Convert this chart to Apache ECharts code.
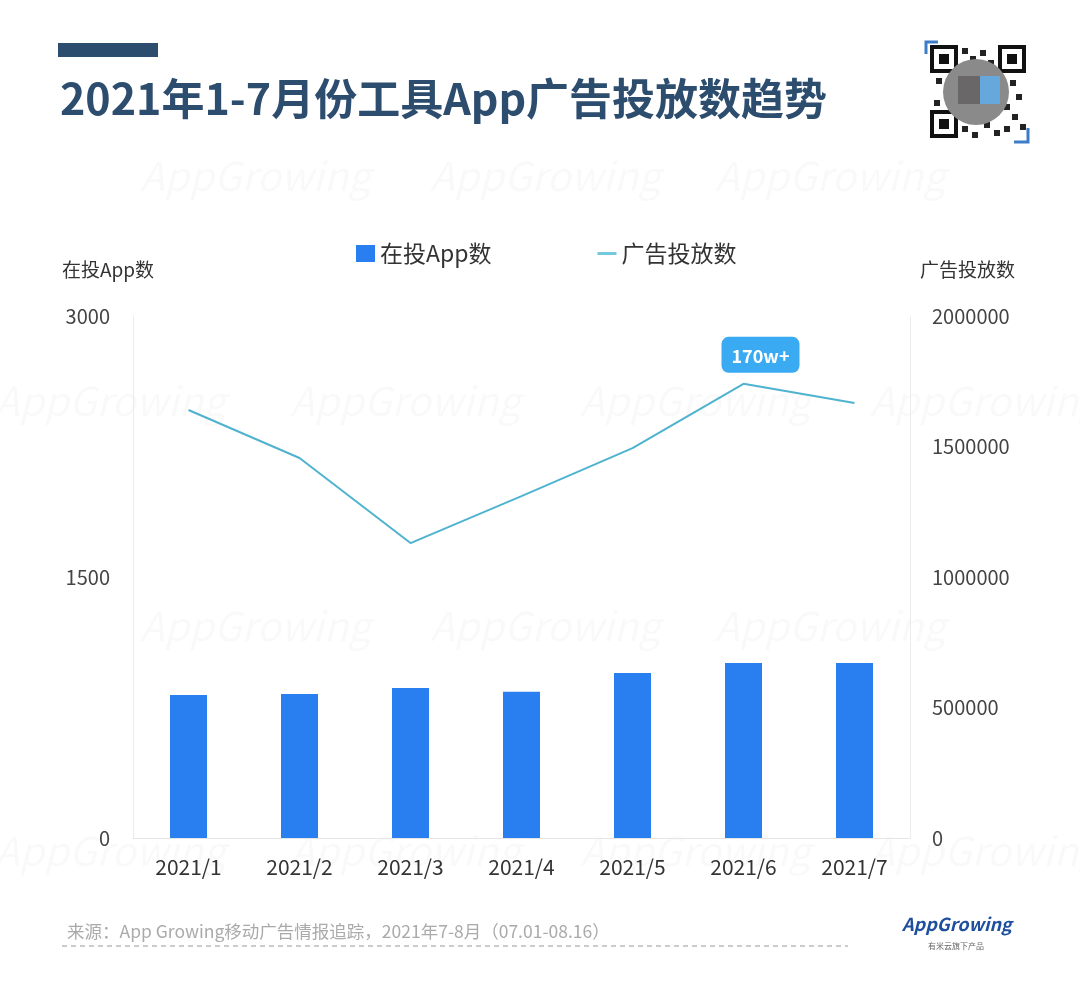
<!DOCTYPE html>
<html>
<head>
<meta charset="utf-8">
<script src="https://cdn.jsdelivr.net/npm/echarts@6/dist/echarts.min.js"></script>
<style>
    html, body {margin: 0; padding: 0; background: #fff;}
    #main {width: 1080px; height: 987px;}
</style>
</head>
<body>
<div id="main"></div>
<script>
// 数据
var months = ['2021/1', '2021/2', '2021/3', '2021/4', '2021/5', '2021/6', '2021/7']
var app_count = [822, 828, 862, 840, 948, 1006, 1006]
var ad_count = [1640000, 1456000, 1130000, 1310000, 1494000, 1740000, 1667000]
var peak_label = '170w+'
var peak_index = 5

var font = '"Noto Sans CJK SC", "Noto Sans", sans-serif'
var chartDom = document.getElementById('main');
var myChart = echarts.init(chartDom);
var option;

var line_data = ad_count.map(function (v, i) {
    if (i === peak_index) {
        return {
            value: v,
            label: {
                show: true,
                position: 'top',
                distance: 11,
                offset: [17, 0],
                formatter: peak_label,
                color: '#fff',
                fontSize: 18,
                fontWeight: 'bold',
                fontFamily: font,
                backgroundColor: '#3aaaf2',
                borderRadius: 7,
                padding: [10, 10, 8, 10]
            }
        }
    }
    return v
})

// 水印
var marks = []
var wm_rows = [[180, [140, 430, 715]], [405, [-5, 290, 580, 870]], [630, [140, 430, 715]], [855, [-5, 290, 580, 870]]]
wm_rows.forEach(function (r) {
    r[1].forEach(function (x) {
        marks.push({type: 'text', x: x, y: r[0] - 24, silent: true,
            style: {text: 'AppGrowing', fill: 'rgba(0,0,0,0.022)', font: 'italic 40px ' + font}})
    })
})

// 二维码 (简化)
var qr = []
var finders = [[932, 47], [1000, 47], [932, 112]]
finders.forEach(function (p) {
    qr.push({type: 'rect', shape: {x: p[0], y: p[1], width: 24, height: 24}, style: {fill: 'none', stroke: '#111', lineWidth: 4}})
    qr.push({type: 'rect', shape: {x: p[0] + 7, y: p[1] + 7, width: 10, height: 10}, style: {fill: '#111'}})
})
var dots = [[962, 48], [970, 56], [980, 50], [988, 60], [936, 78], [944, 90], [934, 100], [1010, 80], [1016, 94], [1004, 104],
    [1012, 114], [1020, 124], [962, 126], [972, 132], [984, 122], [994, 130], [1004, 126]]
dots.forEach(function (d) {
    qr.push({type: 'rect', shape: {x: d[0], y: d[1], width: 6, height: 6}, style: {fill: '#222'}})
})
qr.push({type: 'circle', shape: {cx: 976, cy: 92, r: 33}, style: {fill: '#8a8a8a'}})
qr.push({type: 'rect', shape: {x: 958, y: 76, width: 22, height: 28}, style: {fill: '#6a6768'}})
qr.push({type: 'rect', shape: {x: 980, y: 76, width: 20, height: 28}, style: {fill: '#66a8dc'}})
qr.push({type: 'polyline', shape: {points: [[926, 54], [926, 42], [938, 42]]}, style: {stroke: '#3d7cc9', lineWidth: 3, fill: 'none'}})
qr.push({type: 'polyline', shape: {points: [[1014, 142], [1028, 142], [1028, 128]]}, style: {stroke: '#3d7cc9', lineWidth: 3, fill: 'none'}})

function plain(v) {
    return String(v)
}

option = {
    backgroundColor: '#fff',
    textStyle: {fontFamily: font},
    legend: {
        top: 237,
        left: 351,
        itemGap: 106,
        itemWidth: 19,
        itemHeight: 17,
        textStyle: {fontSize: 23, color: '#333', fontFamily: font},
        data: [
            {name: '在投App数', icon: 'rect'},
            {name: '广告投放数', icon: 'path://M0,0 L20,0 L20,3 L0,3 Z', itemStyle: {color: '#6cc6dd'}}
        ]
    },
    grid: {left: 133, right: 170, top: 316, bottom: 149},
    xAxis: {
        type: 'category',
        data: months,
        axisLine: {lineStyle: {color: '#e6e6e6'}},
        axisTick: {show: false},
        axisLabel: {color: '#333', fontSize: 21, margin: 19, fontFamily: font}
    },
    yAxis: [
        {
            type: 'value',
            name: '在投App数',
            nameLocation: 'end',
            nameGap: 37,
            nameTextStyle: {color: '#333', fontSize: 19, align: 'left', padding: [0, 0, 0, -71]},
            min: 0,
            max: 3000,
            interval: 1500,
            axisLine: {show: true, lineStyle: {color: '#ececec'}},
            axisTick: {show: false},
            splitLine: {show: false},
            axisLabel: {color: '#444', fontSize: 20, margin: 23, fontFamily: font, formatter: plain}
        },
        {
            type: 'value',
            name: '广告投放数',
            nameLocation: 'end',
            nameGap: 37,
            nameTextStyle: {color: '#333', fontSize: 19, align: 'left', padding: [0, 0, 0, 10]},
            min: 0,
            max: 2000000,
            interval: 500000,
            axisLine: {show: true, lineStyle: {color: '#ececec'}},
            axisTick: {show: false},
            splitLine: {show: false},
            axisLabel: {color: '#444', fontSize: 20, margin: 22, fontFamily: font, formatter: plain}
        }
    ],
    series: [
        {
            name: '在投App数',
            type: 'bar',
            yAxisIndex: 0,
            barWidth: 37,
            itemStyle: {color: '#2a7ff0'},
            data: app_count
        },
        {
            name: '广告投放数',
            type: 'line',
            yAxisIndex: 1,
            symbol: 'circle',
            symbolSize: 0,
            showSymbol: true,
            lineStyle: {color: '#4fb3cf', width: 2},
            itemStyle: {color: '#4fb3cf'},
            data: line_data
        }
    ],
    graphic: [
        {type: 'group', z: -10, silent: true, children: marks},
        {type: 'rect', shape: {x: 58, y: 43, width: 100, height: 14}, style: {fill: '#2d4d6f'}},
        {
            type: 'text', left: 60, top: 77,
            style: {text: '2021年1-7月份工具App广告投放数趋势', fill: '#2d4d6f', font: 'bold 43px ' + font}
        },
        {type: 'group', children: qr},
        {
            type: 'text', left: 67, top: 923,
            style: {text: '来源：App Growing移动广告情报追踪，2021年7-8月（07.01-08.16）', fill: '#aaa', font: '17.5px ' + font}
        },
        {type: 'line', shape: {x1: 62, y1: 946, x2: 848, y2: 946}, style: {stroke: '#bbb', lineWidth: 1.5, lineDash: [5, 4]}},
        {
            type: 'text', left: 902, top: 915,
            style: {text: 'AppGrowing', fill: '#1e4f9e', font: 'italic bold 18px ' + font}
        },
        {
            type: 'text', left: 928, top: 942,
            style: {text: '有米云旗下产品', fill: '#666', font: '8px ' + font}
        }
    ]
};

option && myChart.setOption(option);
</script>
</body>
</html>
